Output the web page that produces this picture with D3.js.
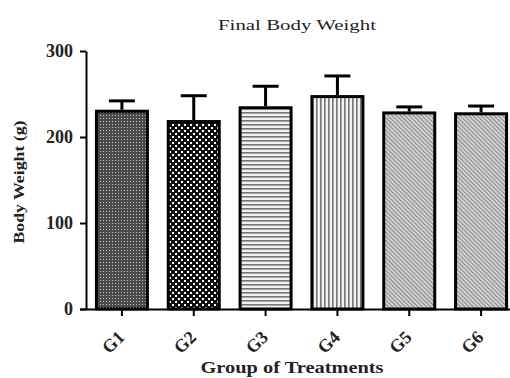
<!DOCTYPE html>
<html><head><meta charset="utf-8">
<script src="https://cdn.jsdelivr.net/npm/d3@7"></script>
<style>body{margin:0;background:#fff}svg{display:block}</style>
</head><body>
<script>
const groups = ["G1","G2","G3","G4","G5","G6"];
const means = [230, 218, 234, 247, 228, 227];
const errors = [12, 30, 25, 24, 7, 9];
const yTicks = [0, 100, 200, 300];
const patternIds = ["p1","p2","p3","p4","p5","p6"];

const W = 510, H = 378;
const svg = d3.select("body").append("svg").attr("width", W).attr("height", H);
const defs = svg.append("defs");
const serif = "Liberation Serif";

// G1: fine dark dots
let p = defs.append("pattern").attr("id","p1").attr("patternUnits","userSpaceOnUse").attr("width",3).attr("height",3);
p.append("rect").attr("width",3).attr("height",3).attr("fill","#4a4a4a");
p.append("rect").attr("x",1).attr("y",1).attr("width",1).attr("height",1).attr("fill","#c8c8c8");
// G2: checker
p = defs.append("pattern").attr("id","p2").attr("patternUnits","userSpaceOnUse").attr("width",6).attr("height",6);
p.append("rect").attr("width",6).attr("height",6).attr("fill","#111");
p.append("rect").attr("x",1).attr("y",1).attr("width",2).attr("height",2).attr("fill","#fff");
p.append("rect").attr("x",4).attr("y",4).attr("width",2).attr("height",2).attr("fill","#fff");
// G3: horizontal lines
p = defs.append("pattern").attr("id","p3").attr("patternUnits","userSpaceOnUse").attr("width",4).attr("height",4);
p.append("rect").attr("width",4).attr("height",4).attr("fill","#f2f2f2");
p.append("rect").attr("y",0).attr("width",4).attr("height",1.6).attr("fill","#777");
// G4: vertical lines
p = defs.append("pattern").attr("id","p4").attr("patternUnits","userSpaceOnUse").attr("width",4).attr("height",4);
p.append("rect").attr("width",4).attr("height",4).attr("fill","#f2f2f2");
p.append("rect").attr("x",0).attr("width",1.6).attr("height",4).attr("fill","#777");
// G5, G6: diagonal hatch
["p5","p6"].forEach(id => {
  const q = defs.append("pattern").attr("id",id).attr("patternUnits","userSpaceOnUse").attr("width",3).attr("height",3)
    .attr("patternTransform", "rotate(-45)");
  q.append("rect").attr("width",3).attr("height",3).attr("fill","#d8d8d8");
  q.append("rect").attr("width",1.2).attr("height",3).attr("fill","#8a8a8a");
});

const x = d3.scaleBand().domain(groups).range([86, 517]).paddingInner(0.29).paddingOuter(0.145);
const y = d3.scaleLinear().domain([0, 300]).range([309, 51]);

// bars
svg.selectAll("rect.bar").data(groups).enter().append("rect")
  .attr("x", d => x(d)).attr("width", x.bandwidth())
  .attr("y", (d,i) => y(means[i])).attr("height", (d,i) => y(0) - y(means[i]))
  .attr("fill", (d,i) => `url(#${patternIds[i]})`)
  .attr("stroke", "#000").attr("stroke-width", 3);

// error bars
const eg = svg.append("g").attr("stroke","#000").attr("stroke-width",3);
groups.forEach((g,i) => {
  const cx = x(g) + x.bandwidth()/2;
  eg.append("line").attr("x1",cx).attr("x2",cx).attr("y1",y(means[i])-1.5).attr("y2",y(means[i]+errors[i]));
  eg.append("line").attr("x1",cx-13).attr("x2",cx+13).attr("y1",y(means[i]+errors[i])).attr("y2",y(means[i]+errors[i]));
});

// y axis
const ya = svg.append("g").attr("transform","translate(86,0)")
  .call(d3.axisLeft(y).tickValues(yTicks).tickSize(6).tickPadding(7).tickSizeOuter(0));
ya.select(".domain").attr("stroke-width",2);
ya.selectAll(".tick line").attr("stroke-width",2);
ya.selectAll(".tick text").attr("font-family",serif).attr("font-weight","bold").attr("font-size",18).attr("fill","#222");

// x axis
const xa = svg.append("g").attr("transform","translate(0,309)")
  .call(d3.axisBottom(x).tickSize(7).tickSizeOuter(0));
xa.select(".domain").attr("stroke-width",2).attr("d","M80,0.5H510");
xa.selectAll(".tick line").attr("stroke-width",2);
xa.selectAll(".tick text").attr("font-family",serif).attr("font-weight","bold").attr("font-size",18).attr("fill","#222")
  .attr("text-anchor","middle").attr("x",0).attr("y",0).attr("dy","0.35em").attr("transform","translate(-9,33) rotate(-45)");

// title
svg.append("text").attr("x",297).attr("y",30).attr("text-anchor","middle")
  .attr("font-family",serif).attr("font-size",15).attr("fill","#222")
  .attr("textLength",158).attr("lengthAdjust","spacingAndGlyphs").text("Final Body Weight");
// x label
svg.append("text").attr("x",292).attr("y",373).attr("text-anchor","middle")
  .attr("font-family",serif).attr("font-weight","bold").attr("font-size",16).attr("fill","#222")
  .attr("textLength",183).attr("lengthAdjust","spacingAndGlyphs").text("Group of Treatments");
// y label
svg.append("text").attr("transform","translate(24,182) rotate(-90)").attr("text-anchor","middle")
  .attr("font-family",serif).attr("font-weight","bold").attr("font-size",15).attr("fill","#222")
  .attr("textLength",123).attr("lengthAdjust","spacingAndGlyphs").text("Body Weight (g)");
</script>
</body></html>
